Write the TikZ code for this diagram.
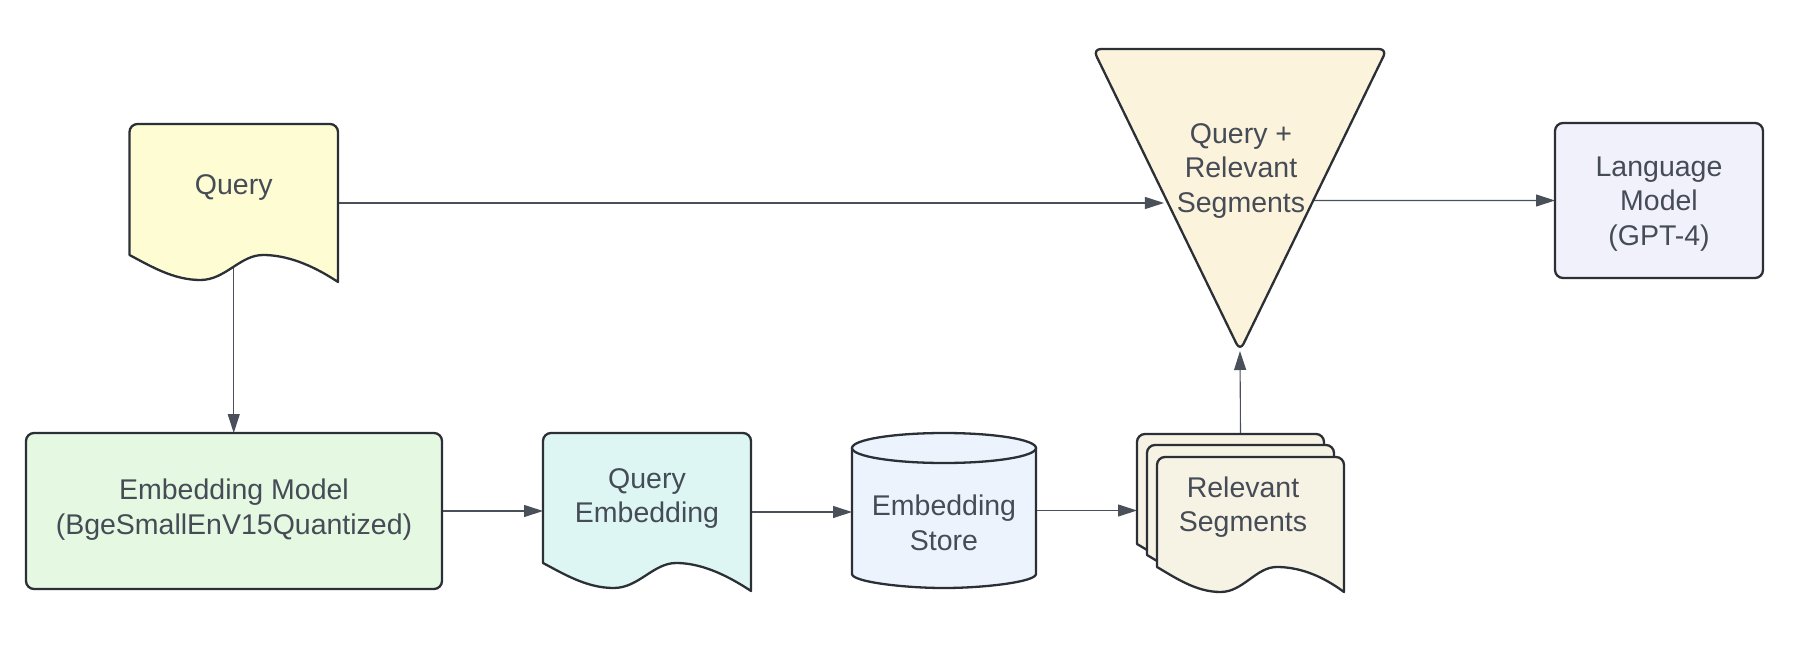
\documentclass[tikz,border=0pt]{standalone}
\usepackage{fontspec}
\setmainfont{Liberation Sans}
\usetikzlibrary{arrows.meta}
\pgfdeclarelayer{conn}
\pgfdeclarelayer{bg}
\pgfsetlayers{conn,bg,main}
\definecolor{edge}{HTML}{2B2F36}
\definecolor{txt}{HTML}{454C56}
\definecolor{wire}{HTML}{4A5059}
\definecolor{queryfill}{HTML}{FEFCD3}
\definecolor{trifill}{HTML}{FCF3DC}
\definecolor{lmfill}{HTML}{F1F1FC}
\definecolor{emfill}{HTML}{E5F8E2}
\definecolor{qefill}{HTML}{DDF6F3}
\definecolor{cylfill}{HTML}{EDF3FD}
\definecolor{rsfill}{HTML}{F6F2E4}
% document shape: fill, x0, x1, top, left-bottom y, right-bottom y
\newcommand\mydocshape[6]{%
  \pgfmathsetmacro\dw{#3-#2}%
  \pgfmathsetmacro\dxc{#2+0.64*\dw}%
  \pgfmathsetmacro\dxt{#2+0.34*\dw}%
  \path[shapeline,fill=#1] (#2,#5) [rounded corners=8pt] -- (#2,#4) -- (#3,#4) [sharp corners] -- (#3,#6)
    .. controls ({#3-0.13*\dw},{#6-18}) and ({\dxc+0.11*\dw},#5) .. (\dxc,#5)
    .. controls ({\dxc-0.11*\dw},#5) and ({\dxt+0.12*\dw},{#5+25}) .. (\dxt,{#5+25})
    .. controls ({\dxt-0.13*\dw},{#5+25}) and ({#2+0.1*\dw},{#5+11}) .. (#2,#5) -- cycle;}
\begin{document}
\begin{tikzpicture}[x=1pt,y=-1pt,
  shapeline/.style={draw=edge,line width=2.3pt,line join=round},
  ghost/.style={rectangle,inner sep=0pt,outer sep=0pt},
  lbl/.style={text=txt,font=\fontsize{28.5}{34.5}\selectfont,align=center,inner sep=0pt},
  boxnode/.style={rectangle,shapeline,rounded corners=8pt,outer sep=0pt},
  wirestyle/.style={draw=wire,line width=1.1pt,-{Triangle[length=19pt,width=12pt]}}]
\useasboundingbox (0,0) rectangle (1796,650);

% ---- node frames ----
\node[ghost,minimum width=208.5pt,minimum height=158pt] (query) at (233.75,203) {};
\node[ghost,minimum width=294pt,minimum height=302pt] (tri) at (1240,200) {};
\node[boxnode,fill=lmfill,minimum width=208pt,minimum height=155pt] (lm) at (1659,200.5) {};
\node[boxnode,fill=emfill,minimum width=416pt,minimum height=156pt] (em) at (234,511) {};
\node[ghost,minimum width=208pt,minimum height=158pt] (qe) at (647,512) {};
\node[ghost,minimum width=184pt,minimum height=155pt] (cyl) at (944,510.5) {};
\node[ghost,minimum width=207pt,minimum height=158pt] (rs) at (1240.5,513) {};
\path (tri.north west) -- (tri.south) coordinate[pos=0.51] (tri-w);
\path (tri.north east) -- (tri.south) coordinate[pos=0.5017] (tri-e);

% ---- shapes ----
\begin{pgfonlayer}{bg}
  \mydocshape{queryfill}{129.5}{338}{124}{255}{282}
  \path[shapeline,fill=trifill,rounded corners=8pt] (tri.north west) -- (tri.north east) -- (tri.south) -- cycle;
  \mydocshape{qefill}{543}{751}{433}{563}{591}
  % cylinder
  \path[shapeline,fill=cylfill] (852,448) -- (852,574)
     .. controls (852,581.7) and (902.8,588) .. (944,588)
     .. controls (985.2,588) and (1036,581.7) .. (1036,574) -- (1036,448) -- cycle;
  \path[shapeline,fill=cylfill] (944,448) ellipse [x radius=92pt,y radius=15pt];
  % stacked documents
  \mydocshape{rsfill}{1137}{1324}{434}{544}{569}
  \mydocshape{rsfill}{1147}{1334}{445}{555}{580}
  \mydocshape{rsfill}{1157}{1344}{457}{567}{592}
\end{pgfonlayer}

% ---- labels ----
\node[lbl] (query-t) at (233.75,188) {Query};
\node[lbl] (tri-t) at (1241,171) {Query +\\Relevant\\Segments};
\node[lbl] (lm-t) at (1659,204) {Language\\Model\\(GPT-4)};
\node[lbl] (em-t) at (234,509.5) {Embedding Model\\(BgeSmallEnV15Quantized)};
\node[lbl] (qe-t) at (647,498.5) {Query\\Embedding};
\node[lbl] (cyl-t) at (944,523) {Embedding\\Store};
\node[lbl] (rs-t) at (1243,507) {Relevant\\Segments};

% ---- connectors ----
\begin{pgfonlayer}{conn}
  \draw[wirestyle,shorten >=4pt] (query.east) -- (query.east -| tri-w);
  \draw[wirestyle] (tri-e) -- (lm.west);
  \draw[wirestyle] (query.center) -- (query.center |- em.north);
  \draw[wirestyle] (em.east) -- (em.east -| qe.west);
  \draw[wirestyle] (qe.east) -- (qe.east -| cyl.west);
  \draw[wirestyle] (cyl.east) -- (cyl.east -| rs.west);
  \draw[wirestyle] (rs.north) -- (tri.south);
\end{pgfonlayer}
\end{tikzpicture}
\end{document}
